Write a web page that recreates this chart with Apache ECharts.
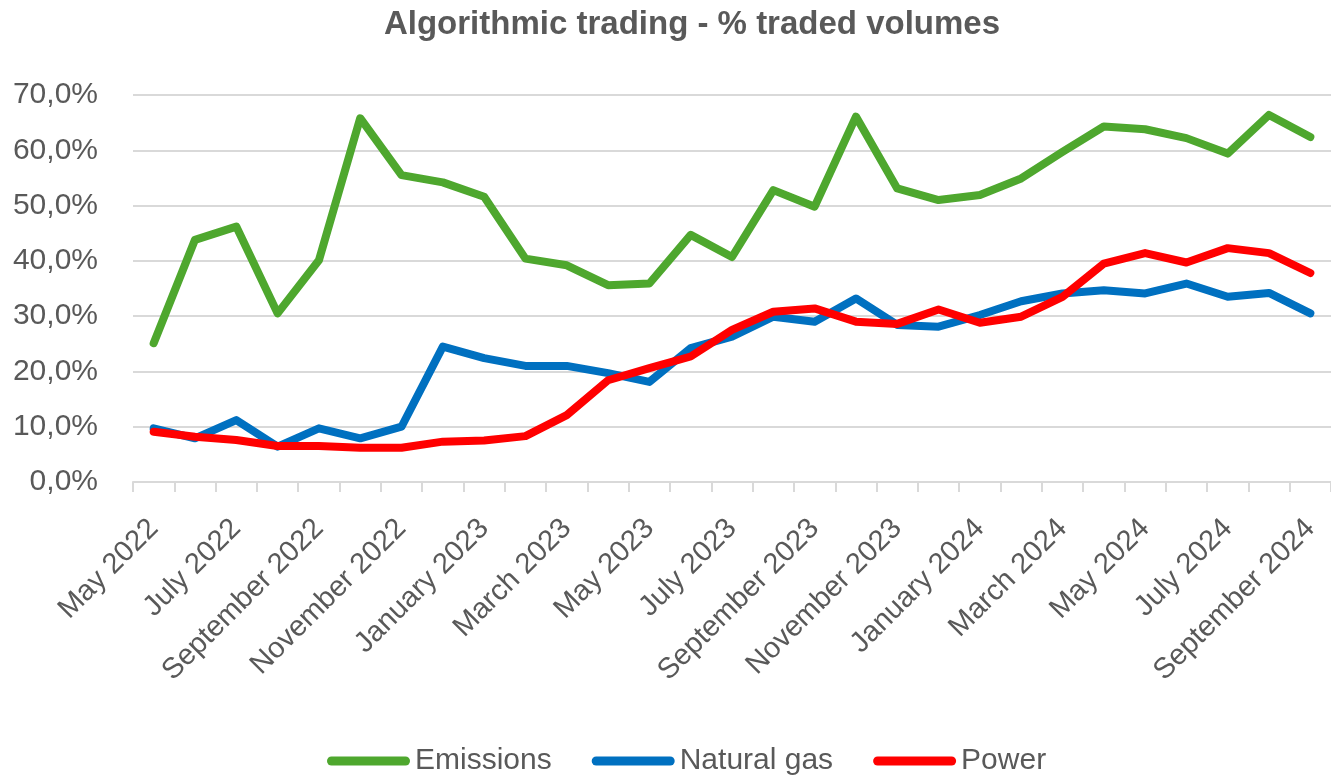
<!DOCTYPE html>
<html>
<head>
<meta charset="utf-8">
<script src="https://cdn.jsdelivr.net/npm/echarts@6/dist/echarts.min.js"></script>
<style>
html,body{margin:0;padding:0;background:#fff;}
#chart{width:1331px;height:775px;}
</style>
</head>
<body>
<div id="chart"></div>
<script>
const categories = ["May 2022","June 2022","July 2022","August 2022","September 2022","October 2022","November 2022","December 2022",
  "January 2023","February 2023","March 2023","April 2023","May 2023","June 2023","July 2023","August 2023","September 2023","October 2023","November 2023","December 2023",
  "January 2024","February 2024","March 2024","April 2024","May 2024","June 2024","July 2024","August 2024","September 2024"];
const emissions = [25.1, 43.8, 46.2, 30.5, 40.1, 65.8, 55.5, 54.2, 51.6, 40.4, 39.2, 35.6, 35.9, 44.7, 40.7, 52.8, 49.8, 66.1, 53.1, 51.0, 51.9, 54.9, 59.7, 64.3, 63.8, 62.2, 59.4, 66.4, 62.4];
const naturalGas = [9.7, 7.9, 11.2, 6.4, 9.7, 7.9, 10.0, 24.5, 22.4, 21.0, 21.0, 19.7, 18.1, 24.2, 26.3, 29.9, 29.0, 33.2, 28.4, 28.1, 30.2, 32.7, 34.1, 34.7, 34.1, 35.9, 33.5, 34.2, 30.5];
const power = [9.1, 8.2, 7.6, 6.5, 6.5, 6.2, 6.2, 7.3, 7.5, 8.3, 12.1, 18.4, 20.6, 22.7, 27.5, 30.8, 31.4, 29.0, 28.6, 31.2, 28.8, 29.9, 33.5, 39.5, 41.4, 39.7, 42.3, 41.4, 37.8];
const seriesNames = ["Emissions", "Natural gas", "Power"];
const yTicks = [0, 10, 20, 30, 40, 50, 60, 70];

const font = "'Liberation Sans', Arial, sans-serif";
const txt = '#595959';
const grey = '#d9d9d9';

const chart = echarts.init(document.getElementById('chart'), null, {renderer: 'canvas'});
const lineStyle = (c) => ({color: c, width: 8, cap: 'round', join: 'round'});
chart.setOption({
  animation: false,
  title: {
    text: 'Algorithmic trading - % traded volumes',
    left: 687, top: 3, textAlign: 'center',
    textStyle: {fontFamily: font, fontWeight: 'bold', fontSize: 33, color: txt}
  },
  legend: {
    data: seriesNames,
    left: 322, top: 741,
    itemWidth: 83, itemHeight: 9, itemGap: 40,
    icon: 'path://M4.5,0 H78.5 A4.5,4.5 0 0 1 78.5,9 H4.5 A4.5,4.5 0 0 1 4.5,0 Z',
    textStyle: {fontFamily: font, fontSize: 30, color: txt}
  },
  grid: {left: 133, top: 95, width: 1210, height: 387, containLabel: false},
  xAxis: {
    type: 'category', data: categories, boundaryGap: true,
    axisLine: {lineStyle: {color: grey, width: 2}},
    axisTick: {show: true, interval: 0, length: 10, lineStyle: {color: grey, width: 2}},
    axisLabel: {interval: 1, rotate: 45, margin: 42, fontFamily: font, fontSize: 29, color: txt},
    splitLine: {show: false}
  },
  yAxis: {
    type: 'value', min: yTicks[0], max: yTicks[yTicks.length-1], interval: 10,
    axisLine: {show: false}, axisTick: {show: false},
    axisLabel: {margin: 35, fontFamily: font, fontSize: 30, color: txt,
      formatter: v => v.toFixed(1).replace('.', ',') + '%'},
    splitLine: {lineStyle: {color: grey, width: 2}}
  },
  series: [
    {name: seriesNames[0], type: 'line', data: emissions, showSymbol: false, symbol: 'none', lineStyle: lineStyle('#4ea72e'), itemStyle: {color: '#4ea72e'}},
    {name: seriesNames[1], type: 'line', data: naturalGas, showSymbol: false, symbol: 'none', lineStyle: lineStyle('#0070c0'), itemStyle: {color: '#0070c0'}},
    {name: seriesNames[2], type: 'line', data: power, showSymbol: false, symbol: 'none', lineStyle: lineStyle('#ff0000'), itemStyle: {color: '#ff0000'}}
  ]
});
</script>
</body>
</html>
